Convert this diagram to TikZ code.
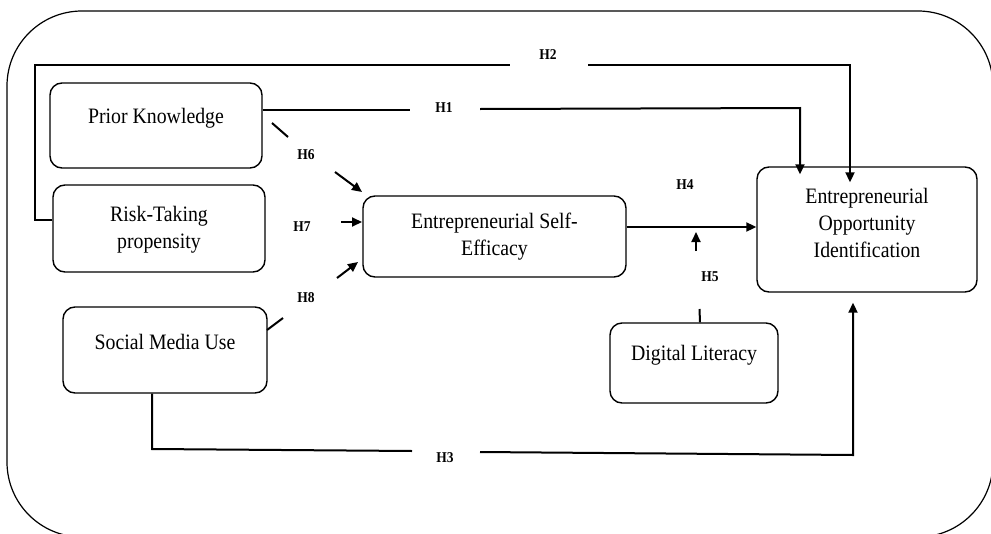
\documentclass[tikz,border=0pt]{standalone}
\usepackage{fontspec}
\setmainfont[FakeStretch=0.9]{Liberation Serif}
\usetikzlibrary{arrows.meta,calc}
\begin{document}
\begin{tikzpicture}[x=1pt,y=-1pt,
  box/.style={draw,line width=1.4pt,rounded corners=12pt,inner sep=0pt},
  txt/.style={font=\fontsize{22}{27}\selectfont,align=center,inner sep=0pt},
  hlab/.style={font=\fontsize{15}{17}\selectfont\bfseries,inner sep=0pt},
  conn/.style={line width=2pt},
  arr/.style={line width=2pt,-{Triangle[length=10pt,width=9pt]}}]
\useasboundingbox (0,0) rectangle (991,533);
\begin{scope}
\clip (0,0) rectangle (991,533);
\draw[line width=1.2pt,rounded corners=75pt] (7,11) rectangle (993,537);
\end{scope}
% boxes
\node[box,minimum width=212pt,minimum height=85pt] (pk) at (156,125.5) {};
\node[txt] (pkt) at (156,118) {Prior Knowledge};
\node[box,minimum width=212pt,minimum height=87pt] (rt) at (159,228.5) {};
\node[txt] (rtt) at (159,229.5) {Risk-Taking\\propensity};
\node[box,minimum width=204pt,minimum height=86pt] (sm) at (165,350) {};
\node[txt] (smt) at (165,342) {Social Media Use};
\node[box,minimum width=263pt,minimum height=81pt] (ese) at (494.5,236.5) {};
\node[txt] (eset) at (494.5,237) {Entrepreneurial Self-\\Efficacy};
\node[box,minimum width=220pt,minimum height=125pt] (eoi) at (867,229.5) {};
\node[txt] (eoit) at (867,222.5) {Entrepreneurial\\Opportunity\\Identification};
\node[box,minimum width=168pt,minimum height=80pt] (dl) at (694,363) {};
\node[txt] (dlt) at (694,355) {Digital Literacy};
% labels
\node[hlab] (h1) at (444,108) {H1};
\node[hlab] (h2) at (548,55) {H2};
\node[hlab] (h3) at (445,458) {H3};
\node[hlab] (h4) at (685,185) {H4};
\node[hlab] (h5) at (710,277) {H5};
\node[hlab] (h6) at (306,155) {H6};
\node[hlab] (h7) at (302,227) {H7};
\node[hlab] (h8) at (306,298) {H8};
% H1
\draw[conn] ([yshift=15.5pt]pk.east) -- (410,110);
\draw[arr] (480,109) -- (800,108) -- ($(eoi.north)+(-67,8)$);
% H2
\draw[conn] ([yshift=8.5pt]rt.west) -- (35,220) -- (35,65) -- (510,65);
\draw[arr] (588,65) -- (850,65) -- ($(eoi.north)+(-17,16)$);
% H3
\draw[conn] ($(sm.south)+(-13,0)$) -- (152,449) -- (412,451);
\draw[arr] (480,452) -- (853,455) -- ($(eoi.south)+(-14,10)$);
% H4
\draw[arr] ([yshift=9.5pt]ese.east) -- ([yshift=2.5pt]eoi.west);
% H5
\draw[conn] ($(dl.north)+(6,0)$) -- (699.5,309);
\draw[arr] (696,251) -- (696,232);
% H6
\draw[conn] (272,123) -- (288,137);
\draw[arr] (335,172) -- (362,192);
% H7
\draw[arr] (341,222) -- (362,222);
% H8
\draw[conn] (267,330) -- (283,318);
\draw[arr] (337,278) -- (358,262);
\end{tikzpicture}
\end{document}
